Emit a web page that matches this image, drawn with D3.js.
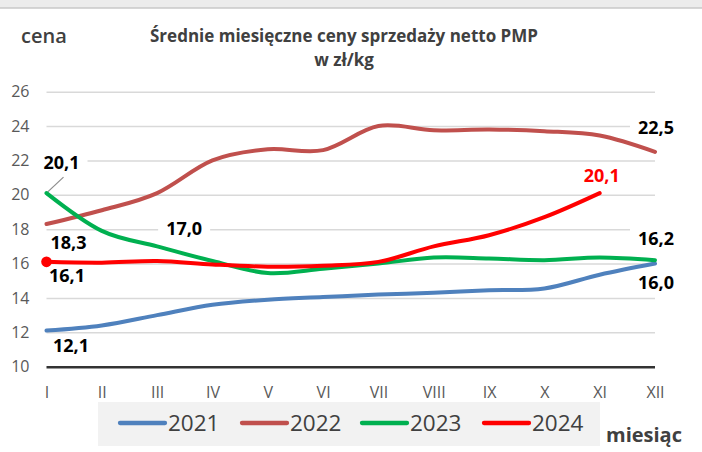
<!DOCTYPE html>
<html>
<head>
<meta charset="utf-8">
<script src="https://cdn.jsdelivr.net/npm/d3@7"></script>
<style>
  body { margin: 0; background: #fff; }
  svg { display: block; font-family: "Open Sans", "DejaVu Sans", sans-serif; }
</style>
</head>
<body>
<div id="chart"></div>
<script>
// months (x categories)
var months = ["I", "II", "III", "IV", "V", "VI", "VII", "VIII", "IX", "X", "XI", "XII"];
var yTicks = [10, 12, 14, 16, 18, 20, 22, 24, 26];

// average monthly prices, zl/kg
var v2021 = [12.1, 12.4, 13.0, 13.6, 13.9, 14.05, 14.2, 14.3, 14.45, 14.55, 15.35, 16.0];
var v2022 = [18.3, 19.1, 20.1, 22.0, 22.65, 22.6, 24.0, 23.75, 23.8, 23.7, 23.45, 22.5];
var v2023 = [20.1, 17.9, 17.0, 16.15, 15.45, 15.7, 16.0, 16.35, 16.3, 16.2, 16.35, 16.2];
var v2024 = [16.1, 16.05, 16.15, 15.95, 15.82, 15.88, 16.1, 17.0, 17.65, 18.7, 20.1];

var seriesNames = ["2021", "2022", "2023", "2024"];
var seriesColors = ["#4f81bd", "#c0504d", "#00b050", "#ff0000"];

var W = 702, H = 452;
var svg = d3.select("#chart").append("svg")
    .attr("width", W)
    .attr("height", H);

// top edge shadow
svg.append("rect").attr("x", 0).attr("y", 0).attr("width", W).attr("height", 8).attr("fill", "#ececec");
svg.append("line").attr("x1", 0).attr("x2", W).attr("y1", 8).attr("y2", 8)
    .attr("stroke", "#c8c8c8").attr("stroke-width", 1.5);

// scales
var x = d3.scalePoint().domain(months).range([46.5, 655]);
var y = d3.scaleLinear().domain([10, 26]).range([366.7, 91.7]);

// gridlines + y labels
var yAxis = svg.append("g")
    .attr("transform", "translate(46.5,0)")
    .call(d3.axisLeft(y).tickValues(yTicks).tickSize(-(655 - 46.5)).tickPadding(17));
yAxis.select(".domain").remove();
yAxis.selectAll("line")
    .attr("stroke", function(d){ return d == 10 ? "#333" : "#d9d9d9"; })
    .attr("stroke-width", function(d){ return d == 10 ? 2.5 : 1.5; });
yAxis.selectAll("text")
    .attr("fill", "#595959")
    .attr("font-size", "16px")
    .style("font-family", "'Open Sans', sans-serif");

// x labels
var xAxis = svg.append("g")
    .attr("transform", "translate(0," + y(10) + ")")
    .call(d3.axisBottom(x).tickSize(0).tickPadding(20));
xAxis.select(".domain").remove();
xAxis.selectAll("text")
    .attr("fill", "#595959")
    .attr("font-size", "16px")
    .style("font-family", "'Open Sans', sans-serif");

// data labels: series, month index, offset from point
var labels = [
  { s: 2, i: 0, dx: 15, dy: -31, text: "20,1", color: "#000" },
  { s: 1, i: 0, dx: 22, dy: 18.7, text: "18,3", color: "#000" },
  { s: 3, i: 0, dx: 20.5, dy: 13.6, text: "16,1", color: "#000" },
  { s: 0, i: 0, dx: 24.5, dy: 15.2, text: "12,1", color: "#000" },
  { s: 2, i: 2, dx: 27, dy: -18, text: "17,0", color: "#000" },
  { s: 1, i: 11, dx: 1, dy: -24, text: "22,5", color: "#000" },
  { s: 3, i: 10, dx: 2, dy: -18, text: "20,1", color: "#ff0000" },
  { s: 2, i: 11, dx: 1, dy: -22, text: "16,2", color: "#000" },
  { s: 0, i: 11, dx: 1, dy: 19, text: "16,0", color: "#000" }
];
var allSeries = [v2021, v2022, v2023, v2024];

// white label backgrounds (they cut the gridlines)
var bg = svg.append("g");
labels.forEach(function(l){
  var px = x(months[l.i]) + l.dx, py = y(allSeries[l.s][l.i]) + l.dy;
  bg.append("rect")
    .attr("x", px - 26).attr("y", py - 11)
    .attr("width", 52).attr("height", 22)
    .attr("fill", "#fff");
});

// leader line for 2023 first label
svg.append("line")
    .attr("x1", x(months[0]) + 1).attr("y1", y(v2023[0]) - 1)
    .attr("x2", x(months[0]) + 17).attr("y2", y(v2023[0]) - 16)
    .attr("stroke", "#8c8c8c").attr("stroke-width", 1.2);

// lines
var line = d3.line()
    .x(function(d, i){ return x(months[i]); })
    .y(function(d){ return y(d); })
    .curve(d3.curveCardinal.tension(0));

svg.append("g").selectAll("path")
    .data(allSeries)
    .enter().append("path")
      .attr("d", line)
      .attr("fill", "none")
      .attr("stroke", function(d, i){ return seriesColors[i]; })
      .attr("stroke-width", 4)
      .attr("stroke-linecap", "round")
      .attr("stroke-linejoin", "round");

// red marker on first 2024 point
svg.append("circle")
    .attr("cx", x(months[0])).attr("cy", y(v2024[0]))
    .attr("r", 5.3).attr("fill", "#ff0000");

// label text
svg.append("g").selectAll("text")
    .data(labels)
    .enter().append("text")
      .attr("x", function(d){ return x(months[d.i]) + d.dx; })
      .attr("y", function(d){ return y(allSeries[d.s][d.i]) + d.dy; })
      .attr("dy", "0.36em")
      .attr("text-anchor", "middle")
      .attr("font-size", "18px")
      .attr("font-weight", "bold")
      .attr("fill", function(d){ return d.color; })
      .text(function(d){ return d.text; });

// title
svg.append("text")
    .attr("x", 344).attr("y", 42)
    .attr("text-anchor", "middle")
    .attr("font-size", "17px")
    .attr("font-weight", "bold")
    .attr("fill", "#404040")
    .text("Średnie miesięczne ceny sprzedaży netto PMP");
svg.append("text")
    .attr("x", 344).attr("y", 66)
    .attr("text-anchor", "middle")
    .attr("font-size", "17px")
    .attr("font-weight", "bold")
    .attr("fill", "#404040")
    .text("w zł/kg");

// axis titles
svg.append("text")
    .attr("x", 21).attr("y", 43)
    .attr("font-size", "20px")
    .attr("font-weight", 600)
    .attr("fill", "#404040")
    .text("cena");
svg.append("text")
    .attr("x", 606).attr("y", 442)
    .attr("font-size", "20px")
    .attr("font-weight", "bold")
    .attr("fill", "#404040")
    .text("miesiąc");

// legend
var legend = svg.append("g");
legend.append("rect")
    .attr("x", 98).attr("y", 402)
    .attr("width", 502).attr("height", 44)
    .attr("fill", "#f2f2f2");
var legX = [120, 242, 362, 484];
var item = legend.selectAll("g.item")
    .data(seriesNames)
    .enter().append("g")
      .attr("class", "item")
      .attr("transform", function(d, i){ return "translate(" + legX[i] + ",423)"; });
item.append("line")
    .attr("x1", 0).attr("x2", 45)
    .attr("stroke", function(d, i){ return seriesColors[i]; })
    .attr("stroke-width", 4.3)
    .attr("stroke-linecap", "round");
item.append("text")
    .attr("x", 48)
    .attr("dy", "0.36em")
    .attr("font-size", "22.5px")
    .attr("fill", "#404040")
    .text(function(d){ return d; });
</script>
</body>
</html>
